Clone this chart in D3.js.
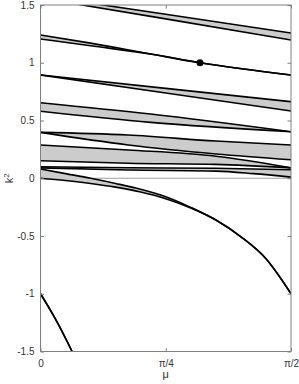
<!DOCTYPE html>
<html>
<head>
<meta charset="utf-8">
<script src="https://cdn.jsdelivr.net/npm/d3@7"></script>
<style>
  body { margin: 0; background: #fff; }
  svg { display: block; font-family: 'Liberation Sans', Arial, sans-serif; }
</style>
</head>
<body>
<div id="chart"></div>
<script>
// each band: rows of [mu, upper k^2, lower k^2]
const band1 = [[0, 1.58, 1.56], [0.785, 1.42, 1.38], [1.571, 1.258, 1.197]];
const band2 = [[0, 1.24, 1.206], [0.314, 1.17, 1.147], [0.69, 1.076, 1.076], [1.0, 1.0, 1.0], [1.571, 0.894, 0.894]];
const band3 = [[0, 0.894, 0.894], [0.785, 0.778, 0.738], [1.571, 0.663, 0.582]];
const band4 = [[0, 0.654, 0.58], [0.69, 0.556, 0.484], [1.571, 0.403, 0.403]];
const band5 = [[0, 0.397, 0.397], [0.55, 0.374, 0.288], [1.1, 0.322, 0.21], [1.571, 0.288, 0.16]];
const band6 = [[0, 0.288, 0.152], [0.55, 0.245, 0.13], [1.1, 0.19, 0.12], [1.571, 0.09, 0.09]];
const band7 = [[0, 0.1, 0.09], [0.55, 0.091, 0.071], [1.1, 0.086, 0.062], [1.335, 0.08, 0.04], [1.571, 0.074, 0.01]];
const band8 = [[0, 0.08, 0], [0.157, 0.04, -0.02], [0.314, 0.0, -0.045], [0.471, -0.045, -0.077],
               [0.628, -0.095, -0.119], [0.785, -0.16, -0.177], [0.942, -0.252, -0.257], [1.1, -0.362, -0.362],
               [1.257, -0.507, -0.507], [1.414, -0.697, -0.697], [1.571, -1.0, -1.0]];
const band9 = [[0, -1.0, -1.0], [0.094, -1.22, -1.22], [0.198, -1.5, -1.5], [0.236, -1.61, -1.61]];
const bands = [band1, band2, band3, band4, band5, band6, band7, band8, band9];

const marker = [1.0, 1.0]; // [mu, k^2]

const xTicks = [0, Math.PI / 4, Math.PI / 2];
const xTickLabels = ['0', 'π/4', 'π/2'];
const yTicks = [-1.5, -1, -0.5, 0, 0.5, 1, 1.5];
const yTickLabels = ['-1.5', '-1', '-0.5', '0', '0.5', '1', '1.5'];

const width = 299, height = 384;
const ml = 40.5, mr = 8, mt = 5, mb = 32.5;

const X = d3.scaleLinear().domain([0, Math.PI / 2]).range([ml, width - mr]);
const Y = d3.scaleLinear().domain([-1.5, 1.5]).range([height - mb, mt]);

const svg = d3.select('#chart').append('svg')
    .attr('width', width)
    .attr('height', height);

svg.append('defs').append('clipPath')
    .attr('id', 'plot-area-clip')
    .append('rect')
    .attr('x', X(0)).attr('y', Y(1.5))
    .attr('width', X(Math.PI / 2) - X(0))
    .attr('height', Y(-1.5) - Y(1.5));

let elements = svg.append('g').attr('clip-path', 'url(#plot-area-clip)');

// zero reference line
elements.append('line')
    .attr('x1', X(0)).attr('x2', X(Math.PI / 2))
    .attr('y1', Y(0)).attr('y2', Y(0))
    .attr('stroke', '#a0a0a0')
    .attr('stroke-width', 1);

let area = d3.area()
    .x(d => X(d[0])).y0(d => Y(d[2])).y1(d => Y(d[1]))
    .curve(d3.curveMonotoneX);
let upper = d3.line().x(d => X(d[0])).y(d => Y(d[1])).curve(d3.curveMonotoneX);
let lower = d3.line().x(d => X(d[0])).y(d => Y(d[2])).curve(d3.curveMonotoneX);

elements.selectAll('path.band')
    .data(bands)
    .join('path')
    .attr('class', 'band')
    .attr('d', area)
    .attr('fill', '#cccccc')
    .attr('stroke', 'none');

let edges = bands.flatMap(b => [upper(b), lower(b)]);
elements.selectAll('path.edge')
    .data(edges)
    .join('path')
    .attr('class', 'edge')
    .attr('d', d => d)
    .attr('fill', 'none')
    .attr('stroke', '#000')
    .attr('stroke-width', 1.6);

elements.append('circle')
    .attr('cx', X(marker[0]))
    .attr('cy', Y(marker[1]))
    .attr('r', 3.5)
    .attr('fill', '#000');

// axes: labels on left/bottom, ticks pointing inward on all four sides
const tickLen = 3.5;
let axisColor = '#808080';

let xAxis = svg.append('g')
    .attr('transform', `translate(0,${Y(-1.5)})`)
    .call(d3.axisBottom(X).tickValues(xTicks).tickFormat((d, i) => xTickLabels[i])
        .tickSizeInner(-tickLen).tickSizeOuter(0).tickPadding(8));
let xTop = svg.append('g')
    .attr('transform', `translate(0,${Y(1.5)})`)
    .call(d3.axisTop(X).tickValues(xTicks).tickFormat('').tickSizeInner(-tickLen).tickSizeOuter(0));
let yAxis = svg.append('g')
    .attr('transform', `translate(${X(0)},0)`)
    .call(d3.axisLeft(Y).tickValues(yTicks).tickFormat((d, i) => yTickLabels[i])
        .tickSizeInner(-tickLen).tickSizeOuter(0).tickPadding(6));
let yRight = svg.append('g')
    .attr('transform', `translate(${X(Math.PI / 2)},0)`)
    .call(d3.axisRight(Y).tickValues(yTicks).tickFormat('').tickSizeInner(-tickLen).tickSizeOuter(0));

for (let g of [xAxis, xTop, yAxis, yRight]) {
    g.select('.domain').remove();
    g.selectAll('line').attr('stroke', axisColor);
    g.selectAll('text').attr('fill', '#333').style('font-size', '10px');
}

// box
svg.append('rect')
    .attr('x', X(0)).attr('y', Y(1.5))
    .attr('width', X(Math.PI / 2) - X(0))
    .attr('height', Y(-1.5) - Y(1.5))
    .attr('fill', 'none')
    .attr('stroke', axisColor)
    .attr('stroke-width', 1);

svg.append('text')
    .attr('x', (X(0) + X(Math.PI / 2)) / 2)
    .attr('y', 378)
    .attr('text-anchor', 'middle')
    .attr('fill', '#333')
    .style('font-size', '11px')
    .text('μ');

let ylab = svg.append('text')
    .attr('transform', `translate(13,${(Y(1.5) + Y(-1.5)) / 2}) rotate(-90)`)
    .attr('text-anchor', 'middle')
    .attr('fill', '#333')
    .style('font-size', '11px');
ylab.append('tspan').text('k');
ylab.append('tspan').attr('dy', -4).style('font-size', '8px').text('2');
</script>
</body>
</html>
